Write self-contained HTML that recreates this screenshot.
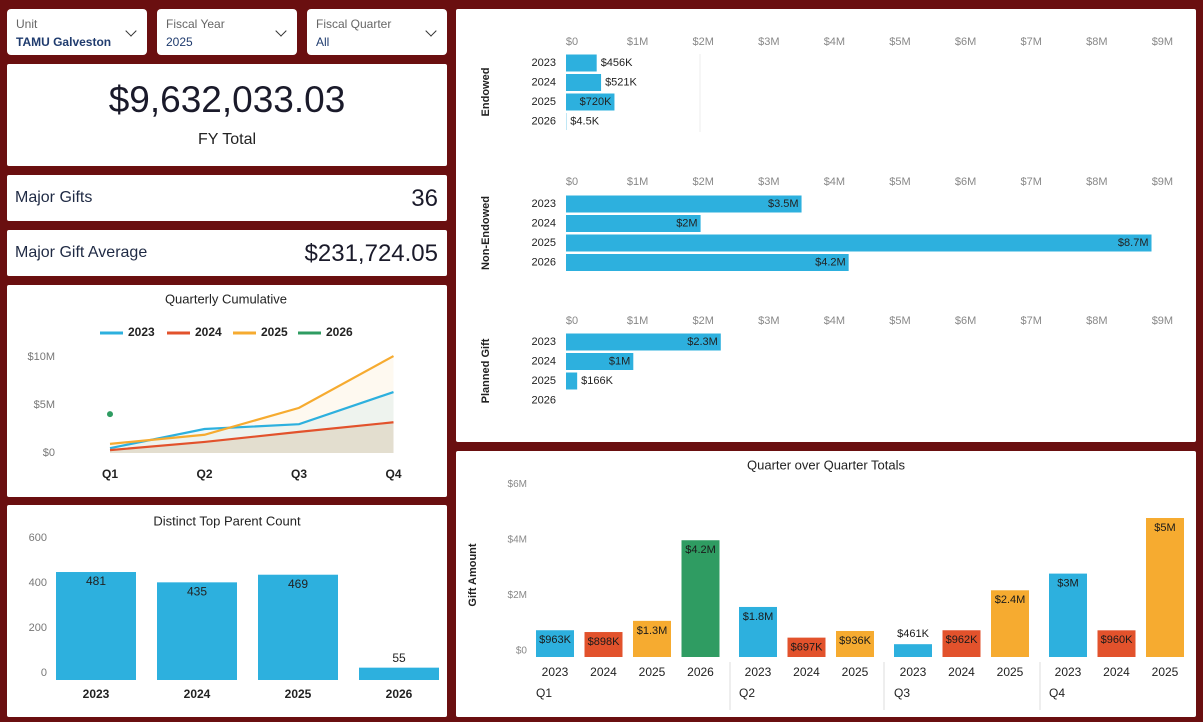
<!DOCTYPE html>
<html><head><meta charset="utf-8">
<style>
body{margin:0;width:1203px;height:722px;background:#6a0f10;font-family:"Liberation Sans",sans-serif;position:relative;overflow:hidden}
.p{position:absolute;background:#fff;border-radius:2px}
.f{position:absolute;background:#fff;border-radius:4px}
.fl{position:absolute;left:9px;top:8px;font-size:12px;color:#666}
.fv{position:absolute;left:9px;top:26px;font-size:12px;color:#1f3b6e}
.chev{position:absolute;right:12px;top:18px;width:7px;height:7px;border-right:1.6px solid #333;border-bottom:1.6px solid #333;transform:rotate(45deg)}
svg text{font-family:"Liberation Sans",sans-serif}
</style></head><body>
<div class="f" style="left:7px;top:9px;width:140px;height:46px"><div class="fl">Unit</div><div class="fv" style="font-weight:bold">TAMU Galveston</div><div class="chev"></div></div>
<div class="f" style="left:157px;top:9px;width:140px;height:46px"><div class="fl">Fiscal Year</div><div class="fv">2025</div><div class="chev"></div></div>
<div class="f" style="left:307px;top:9px;width:140px;height:46px"><div class="fl">Fiscal Quarter</div><div class="fv">All</div><div class="chev"></div></div>

<div class="p" style="left:7px;top:64px;width:440px;height:102px">
<div style="position:absolute;left:0;right:0;top:15px;text-align:center;font-size:37px;color:#1a1a2a">$9,632,033.03</div>
<div style="position:absolute;left:0;right:0;top:67px;text-align:center;font-size:16px;color:#222">FY Total</div></div>
<div class="p" style="left:7px;top:175px;width:440px;height:46px">
<div style="position:absolute;left:8px;top:14px;font-size:16px;color:#1f2a44">Major Gifts</div>
<div style="position:absolute;right:9px;top:10px;font-size:24px;color:#1a1a2a">36</div></div>
<div class="p" style="left:7px;top:230px;width:440px;height:46px">
<div style="position:absolute;left:8px;top:14px;font-size:16px;color:#1f2a44">Major Gift Average</div>
<div style="position:absolute;right:9px;top:10px;font-size:24px;color:#1a1a2a">$231,724.05</div></div>

<div class="p" style="left:7px;top:285px;width:440px;height:212px"></div>
<div class="p" style="left:7px;top:505px;width:440px;height:212px"></div>
<div class="p" style="left:456px;top:9px;width:740px;height:433px"></div>
<div class="p" style="left:456px;top:451px;width:740px;height:266px"></div>

<svg id="s" width="1203" height="722" style="position:absolute;left:0;top:0"></svg>
<script>
// Quarterly cumulative
const quarters=['Q1','Q2','Q3','Q4'];
const cumYears=['2023','2024','2025','2026'];
const cum2023=[0.5,2.5,3.0,6.35];
const cum2024=[0.3,1.15,2.2,3.2];
const cum2025=[0.95,1.9,4.7,10.1];
const cum2026=[4.05];
const cumTicks=[0,5,10];
// Parent count
const pcYears=['2023','2024','2025','2026'];
const pcValues=[481,435,469,55];
const pcTicks=[0,200,400,600];
// Category horizontal bars (millions)
const catNames=['Endowed','Non-Endowed','Planned Gift'];
const catYears=['2023','2024','2025','2026'];
const endowed=[0.456,0.521,0.720,0.0045];
const nonEndowed=[3.5,2.0,8.7,4.2];
const planned=[2.3,1.0,0.166,0];
const endowedLbl=['$456K','$521K','$720K','$4.5K'];
const nonEndowedLbl=['$3.5M','$2M','$8.7M','$4.2M'];
const plannedLbl=['$2.3M','$1M','$166K',''];
const hTicks=[0,1,2,3,4,5,6,7,8,9];
// Quarter over quarter (millions)
const qoqQuarters=['Q1','Q2','Q3','Q4'];
const qoqYears=[['2023','2024','2025','2026'],['2023','2024','2025'],['2023','2024','2025'],['2023','2024','2025']];
const qoqValues=[[0.963,0.898,1.3,4.2],[1.8,0.697,0.936],[0.461,0.962,2.4],[3,0.96,5]];
const qoqLabels=[['$963K','$898K','$1.3M','$4.2M'],['$1.8M','$697K','$936K'],['$461K','$962K','$2.4M'],['$3M','$960K','$5M']];
const qoqTicks=[0,2,4,6];

const colors={'2023':'#2db0de','2024':'#e2522c','2025':'#f6ab30','2026':'#2f9c62'};
const s=document.getElementById('s');
const NS='http://www.w3.org/2000/svg';
function mk(tag,attrs,txt){const e=document.createElementNS(NS,tag);for(const k in attrs)e.setAttribute(k,attrs[k]);if(txt!==undefined)e.textContent=txt;s.appendChild(e);return e;}
function T(x,y,t,o){o=o||{};const e=mk('text',Object.assign({x:x,y:y,'font-size':12,fill:'#222','text-anchor':'middle','dominant-baseline':'middle'},o),t);return e;}

// ---- Quarterly cumulative
let e=T(226,300,'Quarterly Cumulative',{'font-size':13});


const legX=[100,167,233,298];
cumYears.forEach((y,i)=>{
  const l=mk('line',{x1:legX[i],x2:legX[i]+23,y1:333,y2:333,stroke:colors[y],'stroke-width':3});
  
  
  const t=T(legX[i]+28,333,y,{'text-anchor':'start','font-size':12,'font-weight':'bold'});
  
  
});
const cx=i=>110+i*94.5, cy=v=>453-v*9.6;
cumTicks.forEach(v=>{const t=T(55,cy(v),v===0?'$0':'$'+v+'M',{'text-anchor':'end',fill:'#777','font-size':11});
  
  });
quarters.forEach((q,i)=>{const t=T(cx(i),475,q,{'font-weight':'bold','font-size':12});
  
  });
const fills={'2023':'rgba(45,176,222,0.08)','2024':'rgba(200,170,130,0.28)','2025':'rgba(246,171,48,0.07)'};
[['2025',cum2025],['2023',cum2023],['2024',cum2024]].forEach(([y,arr])=>{
  const pts=arr.map((v,i)=>cx(i)+','+cy(v)).join(' ');
  const a=mk('polygon',{points:pts+' '+cx(arr.length-1)+','+cy(0)+' '+cx(0)+','+cy(0),fill:fills[y]});
  
  
});
[['2023',cum2023],['2024',cum2024],['2025',cum2025]].forEach(([y,arr])=>{
  const l=mk('polyline',{points:arr.map((v,i)=>cx(i)+','+cy(v)).join(' '),fill:'none',stroke:colors[y],'stroke-width':2.2});
  
  
});
cum2026.forEach((v,i)=>{const c=mk('circle',{cx:cx(i),cy:cy(v),r:3,fill:colors['2026']});
  
  });

// ---- Parent count
e=T(227,522,'Distinct Top Parent Count',{'font-size':13});


const py=v=>680-v*0.2245;
pcTicks.forEach(v=>{const t=T(47,py(v)-7,String(v),{'text-anchor':'end',fill:'#777','font-size':11});
  
  });
pcYears.forEach((y,i)=>{
  const x=56+i*101;
  const r=mk('rect',{x:x,y:py(pcValues[i]),width:80,height:680-py(pcValues[i]),fill:'#2db0de'});
  
  
  const inside=pcValues[i]>100;
  const t=T(x+40,inside?py(pcValues[i])+10:py(pcValues[i])-9,String(pcValues[i]),{'font-size':12});
  
  
  const t2=T(x+40,695,y,{'font-weight':'bold','font-size':12});
  
  
});

// ---- Category horizontal bars
const hx=v=>566+v*67.3;
const groups=[[endowed,endowedLbl,42,63],[nonEndowed,nonEndowedLbl,182,204],[planned,plannedLbl,321,342]];
groups.forEach(([vals,lbls,ay,ry],g)=>{
  hTicks.forEach(v=>{const t=T(572+v*65.6,ay,v===0?'$0':'$'+v+'M',{fill:'#888','font-size':11});
    
    });
  const gl=T(486,ry+29,catNames[g],{transform:'rotate(-90 486 '+(ry+29)+')','font-size':11,'font-weight':'bold'});
  
  
  catYears.forEach((y,i)=>{
    const yy=ry+i*19.5;
    const yl=T(556,yy,y,{'text-anchor':'end','font-size':11});
    
    
    const w=hx(vals[i])-566;
    const r=mk('rect',{x:566,y:yy-8.5,width:w,height:17,fill:'#2db0de'});
    
    
    if(lbls[i]){
      const big=vals[i]>0.6;
      const t=T(big?hx(vals[i])-3:hx(vals[i])+4,yy,lbls[i],{'text-anchor':big?'end':'start','font-size':11});
      
      
    }
  });
});
mk('line',{x1:700,x2:700,y1:54,y2:132,stroke:'#eee'});

// ---- Quarter over quarter
e=T(826,466,'Quarter over Quarter Totals',{'font-size':13});


const qy=v=>657-v*27.8;
qoqTicks.forEach(v=>{const t=T(527,qy(v)-6,v===0?'$0':'$'+v+'M',{'text-anchor':'end',fill:'#888','font-size':10});
  
  });
e=T(473,575,'Gift Amount',{transform:'rotate(-90 473 575)','font-size':11,'font-weight':'bold'});


const groupStart=[536,739,894,1049];
const sepX=[730,884,1040];
sepX.forEach(x=>{const l=mk('line',{x1:x,x2:x,y1:662,y2:710,stroke:'#ddd'});
  
  });
qoqQuarters.forEach((q,g)=>{
  const ql=T(groupStart[g],694,q,{'text-anchor':'start','font-size':12});
  
  
  qoqYears[g].forEach((y,i)=>{
    const c=groupStart[g]+19+i*48.5;
    const v=qoqValues[g][i];
    const r=mk('rect',{x:c-19,y:qy(v),width:38,height:657-qy(v),fill:colors[y]});
    
    
    const inside=v>0.6;
    const t=T(c,inside?qy(v)+10:qy(v)-10,qoqLabels[g][i],{'font-size':11,fill:'#1a1a1a'});
    
    
    const yl=T(c,673,y,{'font-size':12});
    
    
  });
});
</script>
</body></html>
